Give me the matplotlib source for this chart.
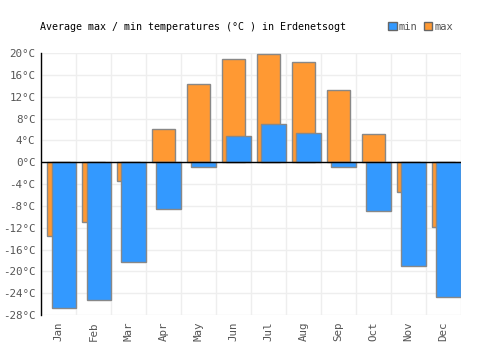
import matplotlib.pyplot as plt
from matplotlib.patches import Patch
import numpy as np

months = ["Jan", "Feb", "Mar", "Apr", "May", "Jun",
          "Jul", "Aug", "Sep", "Oct", "Nov", "Dec"]
temp_min = [-26.8, -25.3, -18.3, -8.5, -0.9, 4.8, 7.0, 5.3, -0.9, -9.0, -19.1, -24.7]
temp_max = [-13.6, -10.9, -3.5, 6.1, 14.3, 18.9, 19.8, 18.3, 13.2, 5.1, -5.4, -11.8]
y_ticks = list(range(-28, 21, 4))

plt.rcParams['font.family'] = ['DejaVu Sans Mono']

fig = plt.figure(figsize=(5, 3.5), dpi=100)
ax = fig.add_axes([41 / 500, 0.1, 420 / 500, 262 / 350])

x = np.arange(len(months))
# max bars sit behind, shifted left
ax.bar(x - 0.34, temp_max, width=0.66, align="edge", color="#ff9933",
       edgecolor="#888888", linewidth=1, zorder=2)
ax.bar(x - 0.2, temp_min, width=0.69, align="edge", color="#3399ff",
       edgecolor="#888888", linewidth=1, zorder=3)

ax.set_xlim(-0.5, 11.5)
ax.set_ylim(-28, 20)
ax.set_yticks(y_ticks)
ax.set_yticklabels([f"{t}°C" for t in y_ticks])
ax.set_xticks(x)
ax.set_xticklabels(months, rotation=90)
ax.set_xticks(np.arange(-0.5, 12, 1), minor=True)
ax.tick_params(axis="both", which="both", length=0, labelsize=7.8,
               labelcolor="#555555")
ax.tick_params(axis="y", pad=4)
ax.tick_params(axis="x", pad=5)

ax.grid(True, which="minor", axis="x", color="#eeeeee", linewidth=1, zorder=0)
ax.grid(True, which="major", axis="y", color="#eeeeee", linewidth=1, zorder=0)
ax.set_axisbelow(True)

for side in ["top", "right", "bottom"]:
    ax.spines[side].set_visible(False)
ax.spines["left"].set_color("black")
ax.spines["left"].set_linewidth(1)
ax.axhline(0, color="black", linewidth=1, zorder=4)

fig.text(40 / 500, 1 - 27 / 350, "Average max / min temperatures (°C ) in Erdenetsogt",
         fontsize=7.2, color="black", va="center")

handles = [Patch(facecolor="#3399ff", edgecolor="#666666", label="min"),
           Patch(facecolor="#ff9933", edgecolor="#666666", label="max")]
fig.legend(handles=handles, loc="center right", bbox_to_anchor=(453 / 500, 1 - 27 / 350),
           ncol=2, frameon=False, fontsize=7.5, handlelength=0.8, handleheight=0.8,
           handletextpad=0.2, columnspacing=0.6, labelcolor="#555555",
           borderpad=0, borderaxespad=0)

plt.savefig("out.png", dpi=100)
